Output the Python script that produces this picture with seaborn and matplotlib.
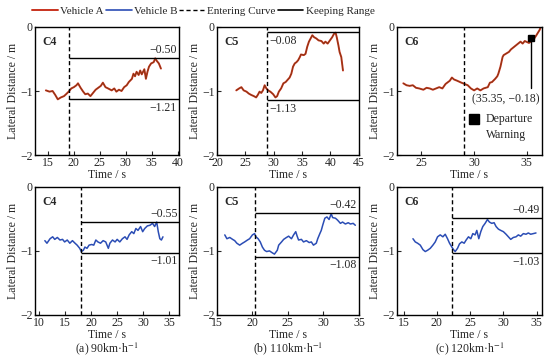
import matplotlib
matplotlib.use("Agg")
import matplotlib.pyplot as plt
from matplotlib.lines import Line2D
import seaborn as sns
import pandas as pd

# ---- data ----
# vehicle A (top row)
a_c4_t = [14.6, 15.3, 15.9, 16.4, 16.9, 17.5, 18.1, 18.5, 19.0, 19.5, 20.0, 20.5, 20.8, 21.3, 21.8,
          22.2, 22.7, 23.2, 23.7, 24.2, 24.7, 25.2, 25.6, 26.1, 26.6, 27.3, 27.8, 28.2, 28.7, 29.2,
          29.7, 30.2, 30.6, 31.2, 31.5, 31.8, 32.1, 32.5, 32.8, 33.1, 33.6, 33.9, 34.2, 34.5, 34.9,
          35.4, 35.7, 36.0, 36.4, 36.8]
a_c4_y = [-0.99, -1.01, -1.00, -1.06, -1.13, -1.10, -1.08, -1.05, -1.01, -0.96, -0.94, -0.91, -0.88,
          -0.95, -1.01, -1.05, -1.04, -1.08, -1.03, -0.98, -0.95, -0.92, -0.87, -0.94, -0.96, -0.99,
          -0.96, -1.01, -0.98, -1.00, -0.94, -0.91, -0.86, -0.81, -0.73, -0.77, -0.70, -0.75, -0.68,
          -0.74, -0.66, -0.81, -0.70, -0.62, -0.57, -0.55, -0.49, -0.53, -0.57, -0.65]

a_c5_t = [23.4, 23.9, 24.3, 24.7, 25.2, 25.6, 26.0, 26.5, 26.9, 27.2, 27.5, 27.8, 28.1, 28.4, 28.7,
          29.0, 29.4, 29.9, 30.3, 30.6, 30.9, 31.3, 31.7, 32.1, 32.5, 32.8, 33.1, 33.4, 33.7, 34.0,
          34.3, 34.6, 34.8, 35.3, 35.6, 35.9, 36.2, 36.5, 36.8, 37.1, 37.5, 37.9, 38.4, 38.8, 39.1,
          39.5, 39.9, 40.3, 40.6, 40.9, 41.1, 41.4, 41.6, 41.9, 42.2]
a_c5_y = [-0.99, -0.96, -0.94, -0.99, -1.01, -1.04, -1.06, -1.08, -1.10, -1.06, -1.01, -1.03, -0.99,
          -0.91, -0.96, -0.99, -1.01, -1.05, -1.10, -1.08, -1.01, -0.96, -0.88, -0.86, -0.82, -0.79,
          -0.73, -0.62, -0.57, -0.55, -0.52, -0.47, -0.43, -0.44, -0.42, -0.31, -0.23, -0.18, -0.13,
          -0.16, -0.18, -0.21, -0.22, -0.26, -0.23, -0.26, -0.21, -0.16, -0.11, -0.09, -0.16, -0.29,
          -0.39, -0.47, -0.68]

a_c6_t = [23.3, 23.6, 23.9, 24.2, 24.5, 24.8, 25.2, 25.5, 25.8, 26.1, 26.4, 26.7, 27.0, 27.3, 27.7,
          27.9, 28.1, 28.4, 28.8, 29.1, 29.4, 29.7, 30.0, 30.3, 30.6, 30.9, 31.3, 31.5, 31.7, 32.0,
          32.2, 32.3, 32.5, 32.7, 32.8, 33.0, 33.3, 33.5, 33.8, 34.1, 34.4, 34.6, 34.8, 35.2, 35.5,
          35.7, 35.9, 36.2, 36.3]
a_c6_y = [-0.88, -0.91, -0.92, -0.91, -0.95, -0.96, -0.98, -0.95, -0.96, -0.98, -0.96, -0.94, -0.96,
          -0.89, -0.84, -0.79, -0.82, -0.84, -0.87, -0.89, -0.91, -0.96, -0.99, -0.96, -0.99, -0.96,
          -0.94, -0.87, -0.86, -0.81, -0.77, -0.73, -0.62, -0.47, -0.44, -0.42, -0.39, -0.35, -0.31,
          -0.27, -0.23, -0.26, -0.22, -0.25, -0.21, -0.18, -0.13, -0.05, -0.01]

# vehicle B (bottom row)
b_c4_t = [11.1, 11.5, 12.1, 12.6, 13.0, 13.5, 14.0, 14.5, 14.9, 15.4, 15.9, 16.4, 16.9, 17.3, 17.8,
          18.1, 18.5, 18.8, 19.2, 19.6, 20.1, 20.5, 20.9, 21.3, 21.8, 22.3, 22.8, 23.3, 23.6, 24.1,
          24.6, 25.0, 25.5, 26.0, 26.5, 26.9, 27.3, 27.8, 28.2, 28.6, 29.0, 29.5, 29.9, 30.3, 30.8,
          31.3, 31.8, 32.2, 32.6, 32.9, 33.2, 33.5, 33.8]
b_c4_y = [-0.84, -0.88, -0.81, -0.78, -0.82, -0.79, -0.83, -0.82, -0.86, -0.83, -0.88, -0.84, -0.88,
          -0.91, -0.96, -1.01, -0.99, -0.94, -0.96, -0.91, -0.90, -0.91, -0.83, -0.86, -0.88, -0.84,
          -0.86, -0.96, -0.88, -0.83, -0.86, -0.82, -0.86, -0.81, -0.78, -0.82, -0.75, -0.70, -0.73,
          -0.65, -0.68, -0.62, -0.70, -0.65, -0.61, -0.60, -0.57, -0.62, -0.55, -0.70, -0.81, -0.83,
          -0.78]

b_c5_t = [16.1, 16.4, 16.8, 17.2, 17.5, 17.8, 18.2, 18.6, 18.9, 19.3, 19.6, 20.0, 20.3, 20.5, 20.8,
          21.1, 21.4, 21.7, 22.0, 22.4, 22.8, 23.1, 23.5, 23.7, 24.1, 24.4, 24.8, 25.1, 25.5, 25.8,
          26.1, 26.3, 26.5, 26.9, 27.2, 27.6, 28.0, 28.3, 28.6, 29.0, 29.2, 29.5, 29.7, 29.9, 30.2,
          30.5, 30.8, 31.1, 31.3, 31.7, 32.0, 32.4, 32.7, 33.1, 33.5, 33.8, 34.2, 34.5]
b_c5_y = [-0.75, -0.81, -0.79, -0.82, -0.84, -0.88, -0.91, -0.88, -0.86, -0.83, -0.81, -0.75, -0.73,
          -0.78, -0.81, -0.86, -0.94, -0.99, -1.01, -1.00, -1.03, -1.05, -0.99, -0.91, -0.86, -0.82,
          -0.79, -0.77, -0.81, -0.75, -0.70, -0.77, -0.83, -0.82, -0.86, -0.84, -0.87, -0.86, -0.91,
          -0.88, -0.81, -0.73, -0.68, -0.60, -0.49, -0.47, -0.51, -0.42, -0.48, -0.49, -0.52, -0.57,
          -0.55, -0.58, -0.56, -0.58, -0.57, -0.60]

b_c6_t = [16.4, 16.75, 17.1, 17.5, 17.9, 18.25, 18.6, 19.0, 19.4, 19.75, 20.1, 20.5, 20.9, 21.25,
          21.6, 21.9, 22.25, 22.5, 22.75, 23.1, 23.4, 23.75, 24.1, 24.4, 24.75, 25.1, 25.4, 25.75,
          26.0, 26.3, 26.6, 26.9, 27.25, 27.6, 27.9, 28.25, 28.6, 28.9, 29.25, 29.6, 30.0, 30.4,
          30.75, 31.1, 31.5, 31.9, 32.25, 32.6, 33.0, 33.4, 33.75, 34.1, 34.5, 34.9]
b_c6_y = [-0.81, -0.86, -0.88, -0.91, -0.98, -1.01, -0.99, -0.96, -0.91, -0.86, -0.78, -0.75, -0.78,
          -0.74, -0.81, -0.88, -0.94, -0.98, -1.01, -0.96, -0.89, -0.86, -0.88, -0.83, -0.78, -0.81,
          -0.73, -0.75, -0.68, -0.81, -0.70, -0.62, -0.57, -0.51, -0.55, -0.57, -0.56, -0.62, -0.66,
          -0.68, -0.70, -0.74, -0.78, -0.82, -0.79, -0.78, -0.75, -0.77, -0.73, -0.74, -0.72, -0.74,
          -0.73, -0.72]

cases = ["C4", "C5", "C6"]
speeds = ["(a) 90km·h$^{-1}$", "(b) 110km·h$^{-1}$", "(c) 120km·h$^{-1}$"]
enter_a = [19.0, 28.8, 29.0]
enter_b = [18.0, 20.4, 22.3]
xlim_a = [(12.5, 40.3), (20, 45), (22.7, 36.4)]
xlim_b = [(9.2, 36.9), (15, 35), (14.0, 35.75)]
xticks_a = [[15, 20, 25, 30, 35, 40], [20, 25, 30, 35, 40, 45], [25, 30, 35]]
xticks_b = [[10, 15, 20, 25, 30, 35], [15, 20, 25, 30, 35], [15, 20, 25, 30, 35]]
# keeping range: drawn line positions and printed labels
range_a_hi = [-0.49, -0.08, None]
range_a_lo = [-1.13, -1.14, None]
label_a_hi = ["−0.50", "−0.08", None]
label_a_lo = ["−1.21", "−1.13", None]
range_b_hi = [-0.545, -0.405, -0.49]
range_b_lo = [-1.03, -1.09, -1.04]
label_b_hi = ["−0.55", "−0.42", "−0.49"]
label_b_lo = ["−1.01", "−1.08", "−1.03"]
warn_t, warn_y = 35.35, -0.18

sns.set_theme(style="ticks")
plt.rcParams["font.family"] = ["Liberation Serif", "DejaVu Serif"]
plt.rcParams["mathtext.fontset"] = "stix"
plt.rcParams["xtick.direction"] = "in"
plt.rcParams["ytick.direction"] = "in"
fs = 8.5

red = "#c8321e"
red_core = "#7a3a12"
blue = "#2b4db5"

fig = plt.figure(figsize=(5.5, 3.59), dpi=100)
lefts = [0.0636, 0.3945, 0.7218]
widths = [0.262, 0.258, 0.263]
rows_bottom = [0.568, 0.1226]
h = 0.357

series_a = [(a_c4_t, a_c4_y), (a_c5_t, a_c5_y), (a_c6_t, a_c6_y)]
series_b = [(b_c4_t, b_c4_y), (b_c5_t, b_c5_y), (b_c6_t, b_c6_y)]


def style_axis(ax, xlim, xticks):
    ax.set_xlim(*xlim)
    ax.set_ylim(-2, 0)
    ax.set_xticks(xticks)
    ax.set_yticks([0, -1, -2])
    ax.set_yticklabels(["0", "−1", "−2"])
    ax.tick_params(labelsize=fs, length=3, width=0.8, pad=1.5)
    for s in ax.spines.values():
        s.set_linewidth(1.0)
        s.set_color("black")
    ax.set_xlabel("Time / s", fontsize=fs, labelpad=0)
    ax.set_ylabel("Lateral Distance / m", fontsize=fs, labelpad=1)


for i in range(3):
    # ---- vehicle A ----
    ax = fig.add_axes([lefts[i], rows_bottom[0], widths[i], h])
    df = pd.DataFrame({"t": series_a[i][0], "y": series_a[i][1]})
    sns.lineplot(data=df, x="t", y="y", ax=ax, color=red, lw=1.4, estimator=None, sort=False)
    sns.lineplot(data=df, x="t", y="y", ax=ax, color=red_core, lw=0.5, estimator=None, sort=False)
    style_axis(ax, xlim_a[i], xticks_a[i])
    ax.axvline(enter_a[i], color="black", lw=1.0, ls=(0, (3, 2)))
    ax.text(0.05, 0.93, cases[i], transform=ax.transAxes, fontsize=fs, fontweight="bold",
            va="top", ha="left")
    x1 = xlim_a[i][1]
    if range_a_hi[i] is not None:
        ax.hlines([range_a_hi[i], range_a_lo[i]], enter_a[i], x1, color="black", lw=1.0)
        if i == 0:
            ax.text(x1 - 0.5, range_a_hi[i] + 0.03, label_a_hi[i], fontsize=fs, ha="right", va="bottom")
            ax.text(x1 - 0.5, range_a_lo[i] - 0.04, label_a_lo[i], fontsize=fs, ha="right", va="top")
        else:
            ax.text(enter_a[i] + 0.4, range_a_hi[i] - 0.04, label_a_hi[i], fontsize=fs, ha="left", va="top")
            ax.text(enter_a[i] + 0.4, range_a_lo[i] - 0.04, label_a_lo[i], fontsize=fs, ha="left", va="top")
    else:
        ax.plot([warn_t, warn_t], [warn_y, -0.95], color="black", lw=1.0)
        ax.plot([warn_t], [warn_y], marker="s", ms=4, color="black", ls="none")
        ax.text(33.0, -1.13, "(35.35, −0.18)", fontsize=fs, ha="center", va="center")
        ax.plot([30.0], [-1.44], marker="s", ms=7, color="black", ls="none")
        ax.text(31.1, -1.44, "Departure", fontsize=fs, ha="left", va="center")
        ax.text(31.1, -1.69, "Warning", fontsize=fs, ha="left", va="center")

    # ---- vehicle B ----
    ax = fig.add_axes([lefts[i], rows_bottom[1], widths[i], h])
    df = pd.DataFrame({"t": series_b[i][0], "y": series_b[i][1]})
    sns.lineplot(data=df, x="t", y="y", ax=ax, color=blue, lw=1.1, estimator=None, sort=False)
    style_axis(ax, xlim_b[i], xticks_b[i])
    ax.axvline(enter_b[i], color="black", lw=1.0, ls=(0, (3, 2)))
    ax.text(0.05, 0.93, cases[i], transform=ax.transAxes, fontsize=fs, fontweight="bold",
            va="top", ha="left")
    x1 = xlim_b[i][1]
    ax.hlines([range_b_hi[i], range_b_lo[i]], enter_b[i], x1, color="black", lw=1.0)
    ax.text(x1 - 0.3, range_b_hi[i] + 0.03, label_b_hi[i], fontsize=fs, ha="right", va="bottom")
    ax.text(x1 - 0.3, range_b_lo[i] - 0.04, label_b_lo[i], fontsize=fs, ha="right", va="top")
    ax.text(0.5, -0.265, speeds[i], transform=ax.transAxes, fontsize=fs, ha="center", va="center")

handles = [
    Line2D([], [], color=red, lw=1.4),
    Line2D([], [], color=blue, lw=1.2),
    Line2D([], [], color="black", lw=1.0, ls=(0, (3, 2))),
    Line2D([], [], color="black", lw=1.2),
]
labels = ["Vehicle A", "Vehicle B", "Entering Curve", "Keeping Range"]
fig.legend(handles, labels, loc="center", bbox_to_anchor=(0.37, 0.968), ncol=4, frameon=False,
           fontsize=8, handlelength=2.3, handletextpad=0.2, columnspacing=0.2, borderaxespad=0)

fig.savefig("out.png", dpi=100)
